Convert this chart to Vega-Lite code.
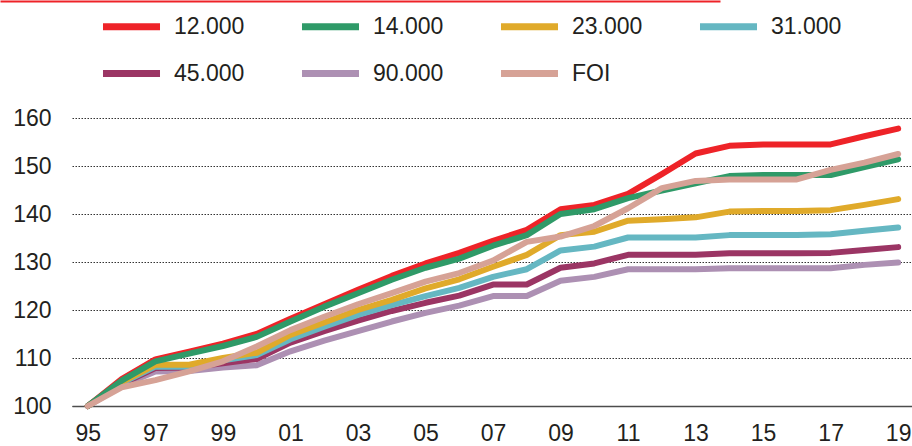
{
  "$schema": "https://vega.github.io/schema/vega-lite/v6.json",
  "width": 840,
  "height": 288,
  "autosize": "none",
  "padding": {"left": 72, "top": 118, "right": 0, "bottom": 40},
  "background": "white",
  "config": {
    "view": {"stroke": null},
    "font": "Liberation Sans",
    "axis": {"labelFont": "Liberation Sans", "labelFontSize": 23, "labelColor": "#231f20", "title": null}
  },
  "data": {"values": [
    {"s":"90.000","y":1995,"v":100},{"s":"90.000","y":1996,"v":104.2},{"s":"90.000","y":1997,"v":107.2},{"s":"90.000","y":1998,"v":107.3},{"s":"90.000","y":1999,"v":108.0},{"s":"90.000","y":2000,"v":108.5},{"s":"90.000","y":2001,"v":111.4},{"s":"90.000","y":2002,"v":113.6},{"s":"90.000","y":2003,"v":115.6},{"s":"90.000","y":2004,"v":117.6},{"s":"90.000","y":2005,"v":119.4},{"s":"90.000","y":2006,"v":120.9},{"s":"90.000","y":2007,"v":122.9},{"s":"90.000","y":2008,"v":122.9},{"s":"90.000","y":2009,"v":126.1},{"s":"90.000","y":2010,"v":126.9},{"s":"90.000","y":2011,"v":128.5},{"s":"90.000","y":2012,"v":128.5},{"s":"90.000","y":2013,"v":128.5},{"s":"90.000","y":2014,"v":128.7},{"s":"90.000","y":2015,"v":128.7},{"s":"90.000","y":2016,"v":128.7},{"s":"90.000","y":2017,"v":128.7},{"s":"90.000","y":2018,"v":129.4},{"s":"90.000","y":2019,"v":129.9},
    {"s":"45.000","y":1995,"v":100},{"s":"45.000","y":1996,"v":104.6},{"s":"45.000","y":1997,"v":107.9},{"s":"45.000","y":1998,"v":108.0},{"s":"45.000","y":1999,"v":108.9},{"s":"45.000","y":2000,"v":109.8},{"s":"45.000","y":2001,"v":113.2},{"s":"45.000","y":2002,"v":115.6},{"s":"45.000","y":2003,"v":117.8},{"s":"45.000","y":2004,"v":119.8},{"s":"45.000","y":2005,"v":121.5},{"s":"45.000","y":2006,"v":123.0},{"s":"45.000","y":2007,"v":125.3},{"s":"45.000","y":2008,"v":125.3},{"s":"45.000","y":2009,"v":128.8},{"s":"45.000","y":2010,"v":129.7},{"s":"45.000","y":2011,"v":131.5},{"s":"45.000","y":2012,"v":131.5},{"s":"45.000","y":2013,"v":131.5},{"s":"45.000","y":2014,"v":131.8},{"s":"45.000","y":2015,"v":131.8},{"s":"45.000","y":2016,"v":131.8},{"s":"45.000","y":2017,"v":131.9},{"s":"45.000","y":2018,"v":132.5},{"s":"45.000","y":2019,"v":133.1},
    {"s":"31.000","y":1995,"v":100},{"s":"31.000","y":1996,"v":104.8},{"s":"31.000","y":1997,"v":108.2},{"s":"31.000","y":1998,"v":108.2},{"s":"31.000","y":1999,"v":109.5},{"s":"31.000","y":2000,"v":110.6},{"s":"31.000","y":2001,"v":113.9},{"s":"31.000","y":2002,"v":116.5},{"s":"31.000","y":2003,"v":119.0},{"s":"31.000","y":2004,"v":121.0},{"s":"31.000","y":2005,"v":122.9},{"s":"31.000","y":2006,"v":124.6},{"s":"31.000","y":2007,"v":126.9},{"s":"31.000","y":2008,"v":128.5},{"s":"31.000","y":2009,"v":132.4},{"s":"31.000","y":2010,"v":133.2},{"s":"31.000","y":2011,"v":135.1},{"s":"31.000","y":2012,"v":135.1},{"s":"31.000","y":2013,"v":135.1},{"s":"31.000","y":2014,"v":135.6},{"s":"31.000","y":2015,"v":135.6},{"s":"31.000","y":2016,"v":135.6},{"s":"31.000","y":2017,"v":135.8},{"s":"31.000","y":2018,"v":136.5},{"s":"31.000","y":2019,"v":137.2},
    {"s":"23.000","y":1995,"v":100},{"s":"23.000","y":1996,"v":105.0},{"s":"23.000","y":1997,"v":108.6},{"s":"23.000","y":1998,"v":108.6},{"s":"23.000","y":1999,"v":110.0},{"s":"23.000","y":2000,"v":111.1},{"s":"23.000","y":2001,"v":114.8},{"s":"23.000","y":2002,"v":117.4},{"s":"23.000","y":2003,"v":120.0},{"s":"23.000","y":2004,"v":122.1},{"s":"23.000","y":2005,"v":124.5},{"s":"23.000","y":2006,"v":126.4},{"s":"23.000","y":2007,"v":129.0},{"s":"23.000","y":2008,"v":131.5},{"s":"23.000","y":2009,"v":135.6},{"s":"23.000","y":2010,"v":136.3},{"s":"23.000","y":2011,"v":138.6},{"s":"23.000","y":2012,"v":138.9},{"s":"23.000","y":2013,"v":139.3},{"s":"23.000","y":2014,"v":140.5},{"s":"23.000","y":2015,"v":140.6},{"s":"23.000","y":2016,"v":140.6},{"s":"23.000","y":2017,"v":140.8},{"s":"23.000","y":2018,"v":141.9},{"s":"23.000","y":2019,"v":143.1},
    {"s":"12.000","y":1995,"v":100},{"s":"12.000","y":1996,"v":105.6},{"s":"12.000","y":1997,"v":109.7},{"s":"12.000","y":1998,"v":111.3},{"s":"12.000","y":1999,"v":113.0},{"s":"12.000","y":2000,"v":115.0},{"s":"12.000","y":2001,"v":118.2},{"s":"12.000","y":2002,"v":121.2},{"s":"12.000","y":2003,"v":124.2},{"s":"12.000","y":2004,"v":127.1},{"s":"12.000","y":2005,"v":129.7},{"s":"12.000","y":2006,"v":131.9},{"s":"12.000","y":2007,"v":134.4},{"s":"12.000","y":2008,"v":136.7},{"s":"12.000","y":2009,"v":141.0},{"s":"12.000","y":2010,"v":141.9},{"s":"12.000","y":2011,"v":144.2},{"s":"12.000","y":2012,"v":148.3},{"s":"12.000","y":2013,"v":152.6},{"s":"12.000","y":2014,"v":154.2},{"s":"12.000","y":2015,"v":154.5},{"s":"12.000","y":2016,"v":154.5},{"s":"12.000","y":2017,"v":154.5},{"s":"12.000","y":2018,"v":156.2},{"s":"12.000","y":2019,"v":157.8},
    {"s":"14.000","y":1995,"v":100},{"s":"14.000","y":1996,"v":105.3},{"s":"14.000","y":1997,"v":109.3},{"s":"14.000","y":1998,"v":110.9},{"s":"14.000","y":1999,"v":112.5},{"s":"14.000","y":2000,"v":114.4},{"s":"14.000","y":2001,"v":117.6},{"s":"14.000","y":2002,"v":120.7},{"s":"14.000","y":2003,"v":123.5},{"s":"14.000","y":2004,"v":126.3},{"s":"14.000","y":2005,"v":128.8},{"s":"14.000","y":2006,"v":130.7},{"s":"14.000","y":2007,"v":133.4},{"s":"14.000","y":2008,"v":135.6},{"s":"14.000","y":2009,"v":140.0},{"s":"14.000","y":2010,"v":141.0},{"s":"14.000","y":2011,"v":143.3},{"s":"14.000","y":2012,"v":144.9},{"s":"14.000","y":2013,"v":146.4},{"s":"14.000","y":2014,"v":147.9},{"s":"14.000","y":2015,"v":148.1},{"s":"14.000","y":2016,"v":148.1},{"s":"14.000","y":2017,"v":148.1},{"s":"14.000","y":2018,"v":149.8},{"s":"14.000","y":2019,"v":151.4},
    {"s":"FOI","y":1995,"v":100},{"s":"FOI","y":1996,"v":103.9},{"s":"FOI","y":1997,"v":105.4},{"s":"FOI","y":1998,"v":107.2},{"s":"FOI","y":1999,"v":109.3},{"s":"FOI","y":2000,"v":112.4},{"s":"FOI","y":2001,"v":115.8},{"s":"FOI","y":2002,"v":118.6},{"s":"FOI","y":2003,"v":121.2},{"s":"FOI","y":2004,"v":123.5},{"s":"FOI","y":2005,"v":125.9},{"s":"FOI","y":2006,"v":127.7},{"s":"FOI","y":2007,"v":130.3},{"s":"FOI","y":2008,"v":134.2},{"s":"FOI","y":2009,"v":135.3},{"s":"FOI","y":2010,"v":137.5},{"s":"FOI","y":2011,"v":141.2},{"s":"FOI","y":2012,"v":145.4},{"s":"FOI","y":2013,"v":146.9},{"s":"FOI","y":2014,"v":147.2},{"s":"FOI","y":2015,"v":147.2},{"s":"FOI","y":2016,"v":147.2},{"s":"FOI","y":2017,"v":149.2},{"s":"FOI","y":2018,"v":150.7},{"s":"FOI","y":2019,"v":152.5}
  ]},
  "layer": [
    {
      "mark": {"type": "line", "strokeWidth": 6, "strokeCap": "round", "strokeJoin": "round"},
      "encoding": {
        "x": {"field": "y", "type": "quantitative",
          "scale": {"domain": [1994.53, 2019.41], "nice": false, "zero": false},
          "axis": {"values": [1995,1997,1999,2001,2003,2005,2007,2009,2011,2013,2015,2017,2019],
            "format": "d", "labelExpr": "slice(datum.label, 2)", "grid": false, "ticks": false,
            "domainColor": "#4d4d4d", "domainWidth": 1.5, "labelPadding": 16, "labelFlush": false}},
        "y": {"field": "v", "type": "quantitative",
          "scale": {"domain": [100, 160], "nice": false, "zero": false},
          "axis": {"values": [100,110,120,130,140,150,160], "domain": false, "ticks": false,
            "gridColor": "#333333", "gridDash": [1.5, 1.5], "gridWidth": 1, "labelPadding": 21}},
        "color": {"field": "s", "type": "nominal",
          "scale": {"domain": ["12.000","14.000","23.000","31.000","45.000","90.000","FOI"],
            "range": ["#ee2328","#2f9a68","#e0aa2a","#65b7c2","#9b3564","#ad90b3","#d6a296"]},
          "legend": {"orient": "none", "legendX": 27, "legendY": -124, "columns": 4, "direction": "horizontal", "title": null,
            "symbolType": "stroke", "symbolSize": 3250, "symbolStrokeWidth": 7, "labelFontSize": 23,
            "labelFont": "Liberation Sans", "labelColor": "#231f20", "labelOffset": 10,
            "columnPadding": 42, "rowPadding": -21, "padding": 0, "labelLimit": 200}},
        "order": {"field": "y", "type": "quantitative"}
      }
    },
    {
      "mark": {"type": "line", "opacity": 0},
      "encoding": {
        "x": {"field": "y", "type": "quantitative",
          "axis": {"orient": "top", "offset": 117, "position": -72, "labels": false, "ticks": false, "grid": false,
            "domainColor": "#ee2328", "domainWidth": 2, "domainDash": [720, 2000], "title": null}},
        "y": {"field": "v", "type": "quantitative"},
        "detail": {"field": "s"}
      }
    }
  ],
  "resolve": {"axis": {"x": "independent"}}
}
